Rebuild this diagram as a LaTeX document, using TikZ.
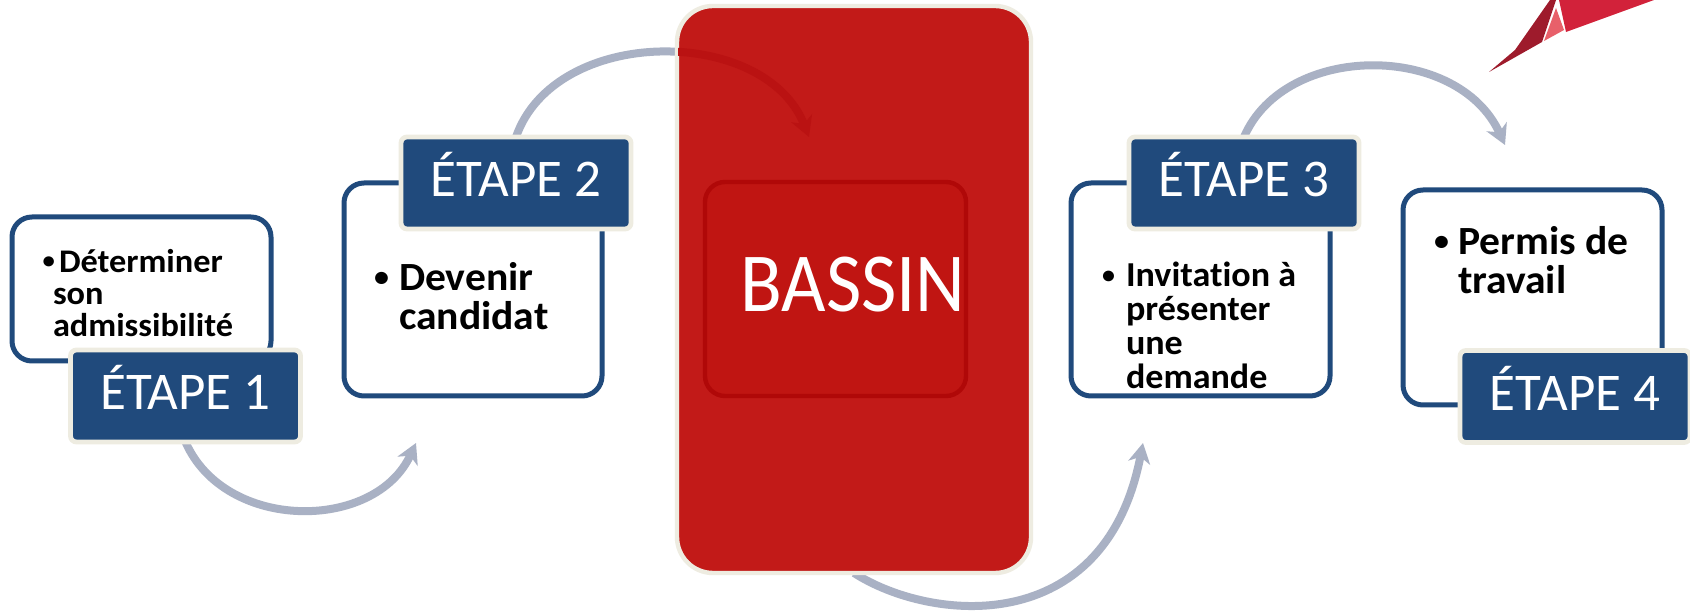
\documentclass[tikz,border=0pt]{standalone}
\usepackage{fontspec}
\setmainfont[Ligatures=NoCommon]{Carlito}
\usetikzlibrary{arrows.meta}
\pgfdeclarelayer{background}
\pgfsetlayers{background,main}
\definecolor{stepblue}{HTML}{204A7C}
\definecolor{cream}{HTML}{EEECE1}
\definecolor{arrowgrey}{HTML}{A9B1C4}
\definecolor{basinred}{HTML}{C21A18}
\definecolor{innerred}{HTML}{C01512}
\definecolor{innerline}{HTML}{B00808}
\definecolor{shaft}{HTML}{BA1212}
\definecolor{logodark}{HTML}{9E1B2C}
\definecolor{logored}{HTML}{D2223A}
\definecolor{logopink}{HTML}{E8606A}
\tikzset{
  wh/.style 2 args={minimum width=#1*0.5pt,minimum height=#2*0.5pt,outer sep=0pt,inner sep=0pt},
  bodybox/.style={draw=stepblue,line width=2.5pt,fill=white,rounded corners=10pt},
  stepbox/.style={draw=cream,line width=2.4pt,fill=stepblue,rounded corners=3pt,text=white,font=\fontsize{26.5}{26.5}\selectfont,wh={230}{92},text height=14pt,text depth=0pt},
  bodytext/.style n args={3}{anchor=north west,align=left,inner sep=0pt,outer sep=0pt,font=\bfseries\fontsize{#1}{#2}\selectfont\addfontfeatures{FakeStretch=#3}},
  curve/.style={draw=arrowgrey,line width=4pt,-{Stealth[length=10pt,width=11pt,inset=3pt]}},
}
\newcommand{\bul}[1]{\llap{\raisebox{.1em}{\scalebox{.72}{\textbullet}}\hspace{#1}}}
\begin{document}
\begin{tikzpicture}[x=0.5pt,y=-0.5pt]
\useasboundingbox (0,0) rectangle (1690,613);
% logo
\fill[logodark] (1489,72) -- (1515,50) -- (1536,20) -- (1550,0) -- (1556,0) -- (1542,42) -- cycle;
\fill[logored] (1559,0) -- (1654,0) -- (1566,32) -- cycle;
\fill[logopink] (1556,8) -- (1564,30) -- (1544,41) -- cycle;
% free ends of the connectors
\coordinate (tip12) at (416,443);
\coordinate (tip2b) at (809,137);
\coordinate (tipb3) at (1143,443);
\coordinate (tip34) at (1505,145);
% body boxes
\node[bodybox,wh={259}{144}] (b1) at (141.5,289) {};
\node[bodybox,wh={258}{213}] (b2) at (473,289.5) {};
\node[bodybox,wh={259}{213}] (b3) at (1200.5,289.5) {};
\node[bodybox,wh={259}{215}] (b4) at (1532.5,297.5) {};
% step boxes
\node[stepbox] (e1) at (185.5,396) {ÉTAPE 1};
\node[stepbox] (e2) at (516,183) {ÉTAPE 2};
\node[stepbox] (e3) at (1244,183) {ÉTAPE 3};
\node[stepbox] (e4) at (1575,396.5) {ÉTAPE 4};
% bassin
\node[draw=cream,line width=2.2pt,fill=basinred,rounded corners=18pt,wh={354}{567}] (bassin) at (854,289.5) {};
% connectors, behind the boxes
\begin{pgfonlayer}{background}
\fill[white] (0,0) rectangle (1690,613);
\clip (0,0) rectangle (1690,613);
\draw[curve] (e1.south) .. controls (225,532) and (375,532) .. (tip12);
\draw[curve] (e2.north) .. controls (555,25) and (765,25) .. (tip2b);
\draw[curve] (bassin.south) .. controls (930,622) and (1105,640) .. (tipb3);
\draw[curve] (e3.north) .. controls (1285,42) and (1458,42) .. (tip34);
\end{pgfonlayer}
% the connector seen through the bassin
\begin{scope}
\clip[rounded corners=18pt] (678,8) rectangle (1030,571);
\draw[draw=shaft,line width=4pt,-{Stealth[length=10pt,width=11pt,inset=3pt]}] (e2.north) .. controls (555,25) and (765,25) .. (tip2b);
\end{scope}
\node[draw=innerline,line width=2.2pt,fill=innerred,rounded corners=10pt,wh={261}{214}] (inner) at (835.5,289) {};
\node[text=white,inner sep=0pt,font=\fontsize{42}{42}\selectfont] (bt) at (853,285) {\scalebox{0.915}[1]{BASSIN}};
% texts
\node[bodytext={16.5}{16}{1.04}] (t1) at (53,249) {\hspace{3pt}\bul{2pt}Déterminer\\son\\admissibilité};
\node[bodytext={20}{19.5}{1.04}] (t2) at (399,262) {\bul{5pt}Devenir\\candidat};
\node[bodytext={17.5}{17}{1.03}] (t3) at (1126,262) {\bul{5.5pt}Invitation à\\présenter\\une\\demande};
\node[bodytext={20}{19.5}{1.04}] (t4) at (1458,226) {\bul{4.5pt}Permis de\\travail};
\end{tikzpicture}
\end{document}
